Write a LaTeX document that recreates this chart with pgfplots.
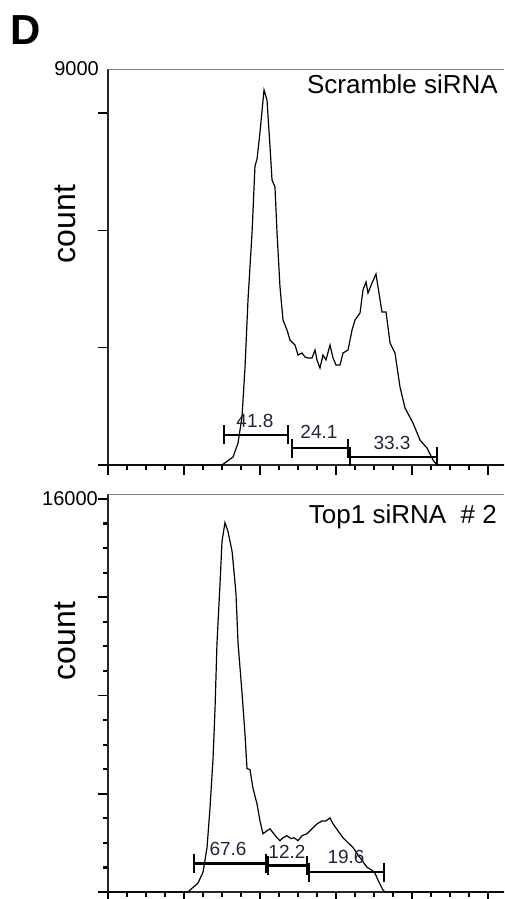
\documentclass[border=0pt]{standalone}
\usepackage{fontspec}
\setmainfont{Liberation Sans}
\usepackage{pgfplots}
\pgfplotsset{compat=1.18}
\usetikzlibrary{arrows.meta}

\definecolor{gatetxt}{RGB}{35,35,60}

\pgfplotsset{
  histo/.style={
    scale only axis,
    width=396pt,
    xmin=0, xmax=5.2105,
    ymin=0,
    scaled ticks=false,
    axis x line*=bottom,
    axis y line*=left,
    axis line style={line width=2.5pt, black!85},
    xtick={0,1,2,3,4,5},
    minor x tick num=3,
    xticklabels={},
    minor y tick num=3,
    tick align=outside,
    major tick length=10pt,
    minor tick length=5pt,
    every tick/.style={black, line width=1.6pt},
    minor tick style={line width=2.2pt},
    yticklabel style={font=\fontsize{20}{24}\selectfont, inner sep=0pt, anchor=east},
    /pgf/number format/assume math mode=true,
  },
  curve/.style={black, line width=1.2pt},
  gate/.style={black, line width=2.4pt, {Bar[width=19pt]}-{Bar[width=19pt]}},
}
\tikzset{gatelbl/.style={font=\fontsize{19}{22}\selectfont, text=gatetxt}}

\begin{document}
\begin{tikzpicture}
\path[use as bounding box] (0,0) rectangle (504pt,-899pt);

% top panel
\begin{axis}[histo,
  at={(108pt,-465pt)}, anchor=south west,
  height=396pt,
  ymax=9000,
  ytick={0,2666.67,5333.33,8000},
  yticklabels={},
  extra y ticks={9000},
  extra y tick labels={9000},
  extra y tick style={major tick length=0pt, yticklabel style={xshift=-9pt}},
]
\addplot[curve] coordinates {
(0,0) (1.50,0) (1.645,182) (1.711,500) (1.763,1091) (1.803,2227) (1.842,3750)
(1.895,5273) (1.934,6795) (1.961,6955) (2.0,7568) (2.053,8523) (2.092,8295)
(2.132,7227) (2.158,6477) (2.197,6318) (2.224,5273) (2.263,4045) (2.303,3295)
(2.355,3068) (2.395,2841) (2.461,2727) (2.5,2500) (2.553,2545) (2.592,2455)
(2.632,2432) (2.684,2432) (2.724,2614) (2.75,2386) (2.789,2205) (2.829,2500)
(2.868,2386) (2.921,2727) (2.961,2432) (3.0,2273) (3.053,2273) (3.092,2545)
(3.158,2614) (3.211,3068) (3.25,3295) (3.316,3455) (3.355,3977) (3.395,4159)
(3.421,3909) (3.474,4136) (3.526,4341) (3.553,4045) (3.605,3477) (3.658,3477)
(3.711,2773) (3.776,2545) (3.842,1773) (3.908,1295) (4.013,955) (4.105,568)
(4.197,386) (4.276,114) (4.329,0) (5.2105,0)
};
\addplot[gate] coordinates {(1.513,682) (2.382,682)};
\addplot[gate] coordinates {(2.408,386) (3.171,386)};
\addplot[gate] coordinates {(3.171,182) (4.342,182)};
\node[gatelbl] at (axis cs:1.934,1000) {41.8};
\node[gatelbl] at (axis cs:2.776,750) {24.1};
\node[gatelbl] at (axis cs:3.737,500) {33.3};
\draw[gray, line width=1.1pt] (rel axis cs:0,1) -- (rel axis cs:1,1);
\end{axis}

% bottom panel
\begin{axis}[histo,
  at={(108pt,-892pt)}, anchor=south west,
  height=398pt,
  ymax=16200,
  ytick={0,4000,8000,12000,16000},
  yticklabels={,,,,16000},
]
\addplot[curve] coordinates {
(0,0) (1.05,0) (1.079,80) (1.184,362) (1.250,804) (1.303,1809) (1.342,3417)
(1.382,5427) (1.408,7437) (1.434,10130) (1.474,12543) (1.5,14271) (1.539,15035)
(1.579,14673) (1.632,13869) (1.645,13467) (1.684,12141) (1.711,10131) (1.763,8121)
(1.803,6392) (1.829,5025) (1.868,4985) (1.908,4221) (1.961,3578) (2.0,2894)
(2.039,2372) (2.092,2492) (2.132,2573) (2.171,2412) (2.224,2211) (2.263,2090)
(2.303,2211) (2.355,2291) (2.408,2171) (2.447,2211) (2.5,2090) (2.553,2291)
(2.618,2372) (2.697,2613) (2.750,2774) (2.816,2894) (2.868,2894) (2.921,3015)
(2.961,2774) (3.026,2492) (3.092,2211) (3.158,2010) (3.224,1809) (3.276,1568)
(3.342,1286) (3.408,1005) (3.474,884) (3.513,764) (3.553,482) (3.618,80)
(3.645,0) (5.2105,0)
};
\addplot[gate] coordinates {(1.118,1166) (2.092,1166)};
\addplot[gate] coordinates {(2.092,1085) (2.632,1085)};
\addplot[gate] coordinates {(2.632,804) (3.645,804)};
\node[gatelbl] at (axis cs:1.579,1769) {67.6};
\node[gatelbl] at (axis cs:2.355,1648) {12.2};
\node[gatelbl] at (axis cs:3.132,1407) {19.6};
\draw[gray, line width=1.1pt] (rel axis cs:0,1) -- (rel axis cs:1,1);
\end{axis}

\node[anchor=base west, font=\fontsize{42}{48}\selectfont\bfseries, inner sep=0pt] at (10pt,-45pt) {D};
\node[anchor=base east, font=\fontsize{26}{30}\selectfont, inner sep=0pt] at (498pt,-93pt) {Scramble siRNA};
\node[anchor=base east, font=\fontsize{26}{30}\selectfont, inner sep=0pt] at (497pt,-523pt) {Top1 siRNA\ \ \# 2};
\node[rotate=90, font=\fontsize{32}{38}\selectfont, inner sep=0pt] at (65pt,-224pt) {count};
\node[rotate=90, font=\fontsize{32}{38}\selectfont, inner sep=0pt] at (65pt,-641pt) {count};
\end{tikzpicture}
\end{document}
